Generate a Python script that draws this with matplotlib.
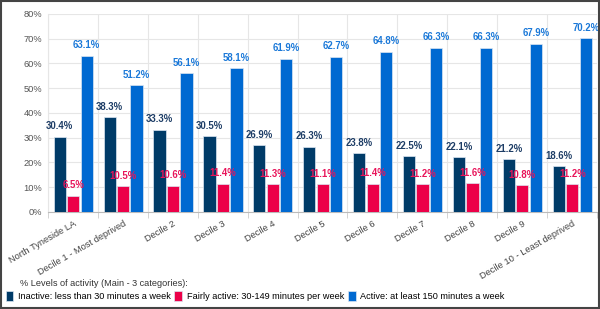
import matplotlib.pyplot as plt
import numpy as np
from matplotlib.patches import Rectangle

plt.rcParams['font.family'] = ['Liberation Sans', 'DejaVu Sans']

categories = ['North Tyneside LA', 'Decile 1 - Most deprived', 'Decile 2', 'Decile 3',
              'Decile 4', 'Decile 5', 'Decile 6', 'Decile 7', 'Decile 8', 'Decile 9',
              'Decile 10 - Least deprived']
inactive = [30.4, 38.3, 33.3, 30.5, 26.9, 26.3, 23.8, 22.5, 22.1, 21.2, 18.6]
fairly = [6.5, 10.5, 10.6, 11.4, 11.3, 11.1, 11.4, 11.2, 11.6, 10.8, 11.2]
active = [63.1, 51.2, 56.1, 58.1, 61.9, 62.7, 64.8, 66.3, 66.3, 67.9, 70.2]
series_names = ['Inactive: less than 30 minutes a week',
                'Fairly active: 30-149 minutes per week',
                'Active: at least 150 minutes a week']
legend_title = '% Levels of activity (Main - 3 categories):'

bar_colors = ['#003B68', '#EC0049', '#0069D1']
label_colors = ['#1D3D66', '#E8145A', '#1A78D8']

fig = plt.figure(figsize=(6, 3.09), dpi=100)
ax = fig.add_axes([0.08, 0.314, 0.915, 0.641])

x = np.arange(len(categories))
offsets = [-0.265, 0.005, 0.275]
width = 0.245
for vals, off, c, lc, name in zip([inactive, fairly, active], offsets, bar_colors,
                                  label_colors, series_names):
    bars = ax.bar(x + off, vals, width, color=c, edgecolor='#dce6f2', linewidth=0.5,
                  label=name, zorder=3)
    for b, v in zip(bars, vals):
        ax.annotate(f'{v}%', (b.get_x() + b.get_width() / 2, v), xytext=(0, 7.5),
                    textcoords='offset points', ha='center', va='center',
                    fontsize=6.9, fontweight='bold', color=lc, zorder=4)

ax.set_xlim(-0.5, len(categories) - 0.5)
ax.set_ylim(0, 80)
ax.set_yticks(np.arange(0, 81, 10))
ax.set_yticklabels([f'{v}%' for v in range(0, 81, 10)])
ax.set_xticks(x)
ax.set_xticklabels(categories, rotation=30, ha='right', rotation_mode='anchor')
ax.set_xticks(np.arange(-0.5, len(categories), 1), minor=True)
ax.tick_params(axis='x', which='major', length=0, pad=5, labelsize=6.7, colors='#444444')
ax.tick_params(axis='x', which='minor', length=4, color='#cccccc')
ax.tick_params(axis='y', length=0, labelsize=6.7, colors='#555555', pad=4)
ax.grid(True, axis='y', color='#e6e6e6', linewidth=0.8, zorder=0)
ax.grid(True, axis='x', which='minor', color='#e6e6e6', linewidth=0.8, zorder=0)
for s in ['top', 'right']:
    ax.spines[s].set_visible(False)
ax.spines['left'].set_color('#e6e6e6')
ax.spines['bottom'].set_color('#bbbbbb')

fig.text(20 / 600, 1 - 283 / 309, legend_title, fontsize=6.6, color='#333333',
         ha='left', va='center')
handles, labels = ax.get_legend_handles_labels()
fig.legend(handles, labels, loc='center left', bbox_to_anchor=(0.0, 1 - 296 / 309),
           ncol=3, frameon=False, fontsize=6.6, handlelength=0.85, handleheight=1.3,
           handletextpad=0.5, columnspacing=0.4, borderaxespad=0.2)

fig.patches.append(Rectangle((0.002, 0.003), 0.996, 0.994, transform=fig.transFigure,
                             fill=False, edgecolor='#444444', linewidth=1.5))

fig.savefig('out.png', dpi=100)
